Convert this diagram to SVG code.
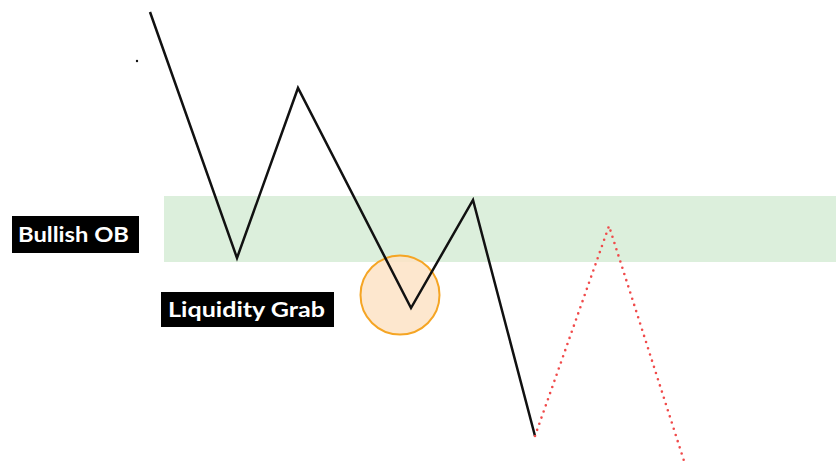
<svg xmlns="http://www.w3.org/2000/svg" width="836" height="464" viewBox="0 0 836 464">
<style>
.lbl{fill:#000}
.lbltxt{fill:#fff;font-family:Lato,"Open Sans","Liberation Sans",sans-serif;font-weight:bold;font-size:20px}
.price{fill:none;stroke:#111;stroke-width:2.5;stroke-linejoin:miter}
.proj{fill:none;stroke:#f04a4a;stroke-width:2.6;stroke-linecap:round;stroke-dasharray:0 6.5}
</style>
<rect width="836" height="464" fill="#fff"/>
<g id="zone">
<rect x="164" y="196" width="672" height="66" fill="#dcefdc"/>
</g>
<g id="grab-circle">
<circle cx="400" cy="295" r="39.5" fill="#fde3c6" fill-opacity="0.85" stroke="#f5a524" stroke-width="2"/>
</g>
<g id="connectors">
<polyline class="price" points="150,12 237,258 298,88 411,308 473,200 535,436"/>
<polyline class="proj" points="535,436 609,226 685,464"/>
</g>
<g id="dot"><circle cx="137" cy="61" r="1.2" fill="#111"/></g>
<g id="bullish-ob">
<rect class="lbl" x="12" y="216" width="127" height="37"/>
<text class="lbltxt" x="18" y="242" textLength="111" lengthAdjust="spacingAndGlyphs">Bullish OB</text>
</g>
<g id="liquidity-grab">
<rect class="lbl" x="161" y="292" width="173" height="35"/>
<text class="lbltxt" x="168" y="317" textLength="157" lengthAdjust="spacingAndGlyphs">Liquidity Grab</text>
</g>
</svg>
